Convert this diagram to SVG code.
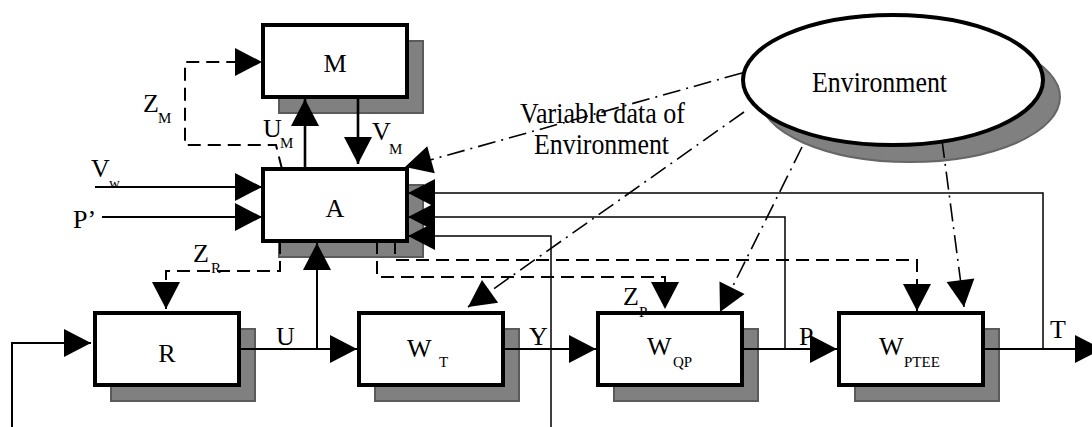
<svg xmlns="http://www.w3.org/2000/svg" width="1092" height="427" viewBox="0 0 1092 427">
<style>
.box{fill:#fff;stroke:#000;stroke-width:4}
.shadow{fill:#808080;stroke:#5a5a5a;stroke-width:2}
text{font-family:"Liberation Serif","Times New Roman",serif;font-size:26px;fill:#000}
.sub{font-size:15px}
.big{font-size:29px}
.ln{fill:none;stroke:#000;stroke-width:2}
.thick{stroke-width:2.6}
.thin{stroke-width:1.5}
.dash{stroke-dasharray:13 7}
.dd{stroke-dasharray:18 6 2 6;stroke-width:1.6}
</style>
<defs>
<marker id="ah" markerUnits="userSpaceOnUse" markerWidth="28" markerHeight="28" refX="27" refY="14" orient="auto" overflow="visible">
<path d="M0,0 L27,14 L0,28 z" style="fill:#000;stroke:none"/>
</marker>
</defs>
<rect width="1092" height="427" fill="#fff"/>
<g id="nodes">
<g id="node-M">
<rect class="shadow" x="279" y="41" width="144" height="72"/>
<rect class="box" x="263" y="25" width="144" height="72"/>
<text x="335" y="72" text-anchor="middle">M</text>
</g>
<g id="node-A">
<rect class="shadow" x="279" y="185" width="144" height="72"/>
<rect class="box" x="263" y="169" width="144" height="72"/>
<text x="335" y="217" text-anchor="middle">A</text>
</g>
<g id="node-R">
<rect class="shadow" x="111" y="329" width="144" height="72"/>
<rect class="box" x="95" y="313" width="144" height="72"/>
<text x="167" y="362" text-anchor="middle">R</text>
</g>
<g id="node-WT">
<rect class="shadow" x="375" y="329" width="144" height="72"/>
<rect class="box" x="359" y="313" width="144" height="72"/>
<text x="407" y="357">W<tspan class="sub" x="439" y="367">T</tspan></text>
</g>
<g id="node-WQP">
<rect class="shadow" x="614" y="329" width="144" height="72"/>
<rect class="box" x="598" y="313" width="144" height="72"/>
<text x="647" y="355">W<tspan class="sub" x="673" y="367">QP</tspan></text>
</g>
<g id="node-WPTEE">
<rect class="shadow" x="855" y="329" width="144" height="72"/>
<rect class="box" x="839" y="313" width="144" height="72"/>
<text x="879" y="355">W<tspan class="sub" x="904" y="367">PTEE</tspan></text>
</g>
<g id="node-Environment">
<ellipse cx="910" cy="97" rx="150" ry="65" fill="#808080" stroke="#666" stroke-width="2"/>
<ellipse cx="893" cy="80" rx="150" ry="65" fill="#fff" stroke="#000" stroke-width="4"/>
<text class="big" x="812" y="92" textLength="135" lengthAdjust="spacingAndGlyphs">Environment</text>
</g>
</g>
<g id="connectors">
<path class="ln dash" d="M282,169 L276,145 H185 V62 H262" marker-end="url(#ah)"/>
<path class="ln thick" d="M305,169 V99" marker-end="url(#ah)"/>
<path class="ln thick" d="M358,98 V164" marker-end="url(#ah)"/>
<path class="ln" d="M95,187 H262" marker-end="url(#ah)"/>
<path class="ln" d="M102,217 H262" marker-end="url(#ah)"/>
<path class="ln dd" d="M742,73 L405,167" marker-end="url(#ah)"/>
<path class="ln thin" d="M1043,349 V193 H408" marker-end="url(#ah)"/>
<path class="ln thin" d="M785,349 V217 H408" marker-end="url(#ah)"/>
<path class="ln thin" d="M551,427 V236 H408" marker-end="url(#ah)"/>
<path class="ln" d="M12,427 V343 H91" marker-end="url(#ah)"/>
<path class="ln" d="M239,349 H357" marker-end="url(#ah)"/>
<path class="ln" d="M317,349 V243" marker-end="url(#ah)"/>
<path class="ln" d="M503,349 H596" marker-end="url(#ah)"/>
<path class="ln" d="M742,349 H837" marker-end="url(#ah)"/>
<path class="ln" d="M983,349 H1102" marker-end="url(#ah)"/>
<path class="ln dash" d="M280,241 V271 H166 V309" marker-end="url(#ah)"/>
<path class="ln dash" d="M377,241 V277 H665 V309" marker-end="url(#ah)"/>
<path class="ln dash" d="M395,241 V260 H917 V311" marker-end="url(#ah)"/>
<path class="ln dd" d="M744,112 L468,307" marker-end="url(#ah)"/>
<path class="ln dd" d="M802,147 L720,312" marker-end="url(#ah)"/>
<path class="ln dd" d="M942,140 L964,307" marker-end="url(#ah)"/>
</g>
<g id="labels">
<text class="big" x="520" y="123" textLength="165" lengthAdjust="spacingAndGlyphs">Variable data of</text>
<text class="big" x="534" y="154" textLength="135" lengthAdjust="spacingAndGlyphs">Environment</text>
<text x="143" y="112">Z<tspan class="sub" x="158" y="123">M</tspan></text>
<text x="263" y="137">U<tspan class="sub" x="280" y="148">M</tspan></text>
<text x="372" y="140">V<tspan class="sub" x="389" y="154">M</tspan></text>
<text x="91" y="177">V<tspan class="sub" x="109" y="188">w</tspan></text>
<text x="73" y="228">P’</text>
<text x="193" y="262">Z<tspan class="sub" x="211" y="273">R</tspan></text>
<text x="623" y="305">Z<tspan class="sub" x="639" y="317">P</tspan></text>
<text x="276" y="345">U</text>
<text x="529" y="345">Y</text>
<text x="799" y="345">P</text>
<text x="1050" y="338">T</text>
</g>
</svg>
